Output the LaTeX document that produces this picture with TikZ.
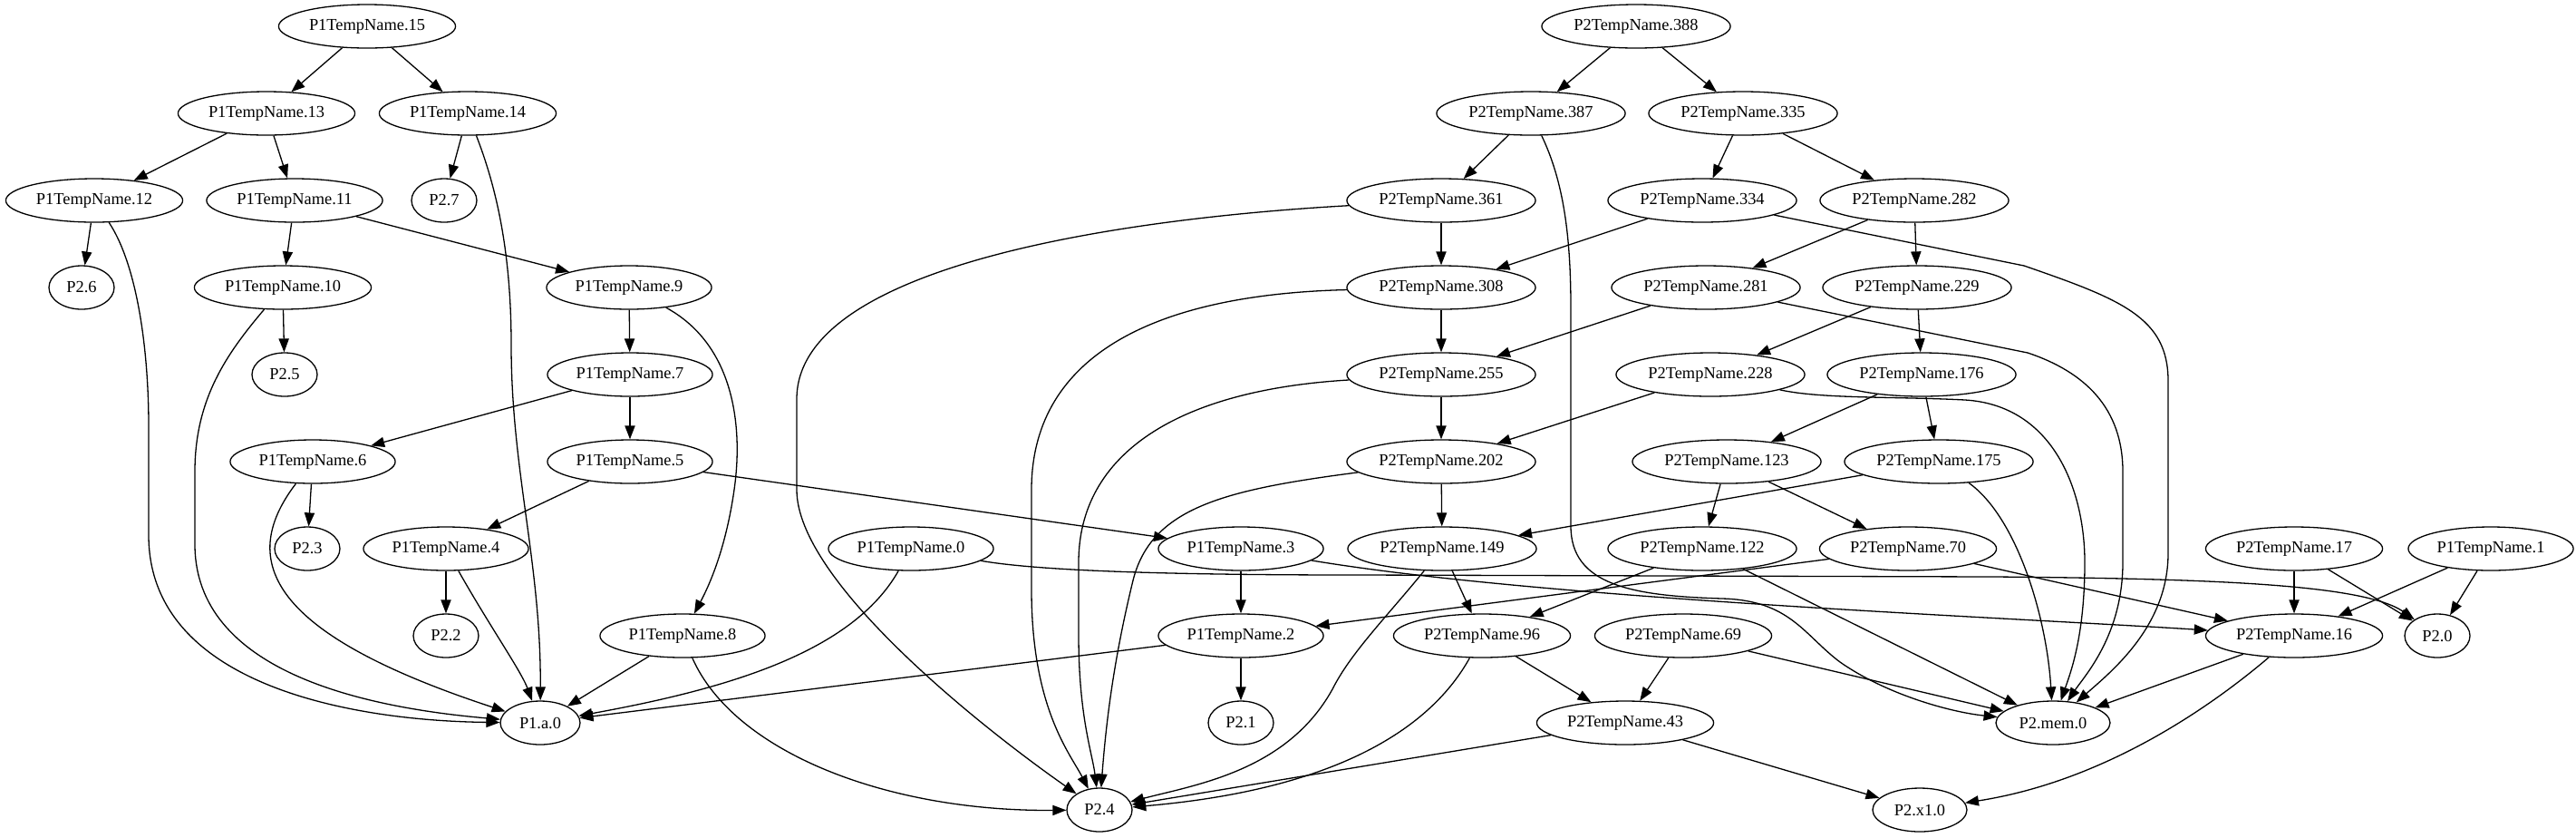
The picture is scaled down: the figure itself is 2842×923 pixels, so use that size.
\documentclass[tikz,border=0pt]{standalone}
\usepackage{fontspec}
\setmainfont{Liberation Serif}
\usetikzlibrary{arrows.meta,shapes.geometric}
\begin{document}
\begin{tikzpicture}[x=0.5pt,y=-0.5pt,
  nd/.style={ellipse,draw,line width=0.65pt,inner xsep=2.5pt,inner ysep=1pt,
    minimum width=36pt,minimum height=24pt,font=\fontsize{9.2pt}{11pt}\selectfont},
  e/.style={line width=0.65pt,-{Triangle[length=7.5pt,width=5.6pt]}}]
\fill[white] (0,0) rectangle (2842,923);
\useasboundingbox (0,0) rectangle (2842,923);
% P1 nodes
\node[nd] (p15) at (405,29) {P1TempName.15};
\node[nd] (p13) at (294,125) {P1TempName.13};
\node[nd] (p14) at (516,125) {P1TempName.14};
\node[nd] (p12) at (104,221) {P1TempName.12};
\node[nd] (p11) at (325,221) {P1TempName.11};
\node[nd] (x27) at (490,221) {P2.7};
\node[nd] (x26) at (90,317) {P2.6};
\node[nd] (p10) at (312,317) {P1TempName.10};
\node[nd] (p9) at (694,317) {P1TempName.9};
\node[nd] (x25) at (314,413) {P2.5};
\node[nd] (p7) at (695,413) {P1TempName.7};
\node[nd] (p6) at (345,509) {P1TempName.6};
\node[nd] (p5) at (695,509) {P1TempName.5};
\node[nd] (x23) at (339,605) {P2.3};
\node[nd] (p4) at (492,605) {P1TempName.4};
\node[nd] (p0) at (1005,605) {P1TempName.0};
\node[nd] (p3) at (1369,605) {P1TempName.3};
\node[nd] (x22) at (492,701) {P2.2};
\node[nd] (p8) at (753,701) {P1TempName.8};
\node[nd] (p2) at (1369,701) {P1TempName.2};
\node[nd,minimum width=44pt] (pa0) at (596,797) {P1.a.0};
\node[nd] (x21) at (1369,797) {P2.1};
\node[nd] (x24) at (1213,893) {P2.4};
% P2 nodes
\node[nd] (q388) at (1805,29) {P2TempName.388};
\node[nd] (q387) at (1689,125) {P2TempName.387};
\node[nd] (q335) at (1923,125) {P2TempName.335};
\node[nd] (q361) at (1590,221) {P2TempName.361};
\node[nd] (q334) at (1878,221) {P2TempName.334};
\node[nd] (q282) at (2112,221) {P2TempName.282};
\node[nd] (q308) at (1590,317) {P2TempName.308};
\node[nd] (q281) at (1882,317) {P2TempName.281};
\node[nd] (q229) at (2115,317) {P2TempName.229};
\node[nd] (q255) at (1590,413) {P2TempName.255};
\node[nd] (q228) at (1887,413) {P2TempName.228};
\node[nd] (q176) at (2120,413) {P2TempName.176};
\node[nd] (q202) at (1590,509) {P2TempName.202};
\node[nd] (q123) at (1905,509) {P2TempName.123};
\node[nd] (q175) at (2139,509) {P2TempName.175};
\node[nd] (q149) at (1591,605) {P2TempName.149};
\node[nd] (q122) at (1878,605) {P2TempName.122};
\node[nd] (q70) at (2105,605) {P2TempName.70};
\node[nd] (q17) at (2531,605) {P2TempName.17};
\node[nd] (p1) at (2748,605) {P1TempName.1};
\node[nd] (q96) at (1635,701) {P2TempName.96};
\node[nd] (q69) at (1857,701) {P2TempName.69};
\node[nd] (q16) at (2531,701) {P2TempName.16};
\node[nd] (x20) at (2689,701) {P2.0};
\node[nd] (q43) at (1793,797) {P2TempName.43};
\node[nd,minimum width=63pt] (xmem) at (2265,797) {P2.mem.0};
\node[nd,minimum width=52pt] (xx1) at (2118,893) {P2.x1.0};
% straight edges
\foreach \a/\b in {p15/p13,p15/p14,p13/p12,p13/p11,p14/x27,p12/x26,p11/p10,p11/p9,
  p10/x25,p9/p7,p7/p6,p7/p5,p6/x23,p5/p4,p5/p3,p4/x22,p8/pa0,p3/p2,p2/pa0,p2/x21,
  p1/q16,p1/x20,q17/q16,q17/x20,
  q388/q387,q388/q335,q387/q361,q335/q334,q335/q282,q361/q308,q334/q308,
  q282/q281,q282/q229,q308/q255,q281/q255,q229/q228,q229/q176,q255/q202,q228/q202,
  q176/q123,q176/q175,q202/q149,q123/q122,q123/q70,q175/q149,q149/q96,q122/q96,
  q122/xmem,q70/p2,q70/q16,q96/q43,q69/q43,q69/xmem,q16/xmem,q43/x24,q43/xx1}
  {\draw[e] (\a) -- (\b);}
% curved edges
\draw[e] (p14) .. controls (545,200) and (564,270) .. (564,380) .. controls (564,520) and (597,620) .. (pa0);
\draw[e] (p12) .. controls (150,290) and (164,380) .. (164,470) -- (164,590) .. controls (164,760) and (400,795) .. (pa0);
\draw[e] (p10) .. controls (250,390) and (215,440) .. (215,520) -- (215,600) .. controls (215,740) and (400,780) .. (pa0);
\draw[e] (p6) .. controls (260,620) and (300,700) .. (pa0);
\draw[e] (p4) .. controls (540,690) and (575,740) .. (pa0);
\draw[e] (p9) .. controls (810,380) and (820,470) .. (810,540) .. controls (800,610) and (780,650) .. (p8);
\draw[e] (p8) .. controls (810,830) and (980,895) .. (x24);
\draw[e] (p0) .. controls (940,720) and (800,760) .. (pa0);
\draw[e] (p0) .. controls (1150,630) and (1300,634) .. (1500,634) -- (2200,636) .. controls (2450,638) and (2610,645) .. (x20);
\draw[e] (p3) .. controls (1700,660) and (2200,680) .. (q16);
\draw[e] (q387) .. controls (1725,200) and (1733,260) .. (1733,340) -- (1733,580) .. controls (1733,645) and (1800,657) .. (1900,660) .. controls (1975,662) and (1990,700) .. (2030,730) .. controls (2080,765) and (2150,785) .. (xmem);
\draw[e] (q361) .. controls (1250,240) and (879,290) .. (879,440) -- (879,540) .. controls (879,640) and (1080,800) .. (x24);
\draw[e] (q308) .. controls (1260,325) and (1138,400) .. (1138,540) -- (1138,650) .. controls (1138,780) and (1180,830) .. (x24);
\draw[e] (q255) .. controls (1300,430) and (1190,500) .. (1190,620) -- (1190,700) .. controls (1190,790) and (1205,830) .. (x24);
\draw[e] (q202) .. controls (1350,540) and (1270,560) .. (1250,640) .. controls (1228,730) and (1220,800) .. (x24);
\draw[e] (q149) .. controls (1530,680) and (1490,720) .. (1470,760) .. controls (1420,850) and (1320,865) .. (x24);
\draw[e] (q96) .. controls (1580,800) and (1480,870) .. (x24);
\draw[e] (q16) .. controls (2450,770) and (2330,860) .. (xx1);
\draw[e] (q175) .. controls (2225,570) and (2258,680) .. (xmem);
\draw[e] (q228) .. controls (2010,440) and (2090,437) .. (2168,441) .. controls (2265,447) and (2300,540) .. (2300,620) .. controls (2300,700) and (2285,740) .. (xmem);
\draw[e] (q281) -- (2237,389) .. controls (2300,410) and (2342,450) .. (2342,520) -- (2342,620) .. controls (2342,700) and (2300,745) .. (xmem);
\draw[e] (q334) -- (2233,293) .. controls (2340,330) and (2392,350) .. (2392,420) -- (2392,610) .. controls (2392,690) and (2330,740) .. (xmem);
\end{tikzpicture}
\end{document}
